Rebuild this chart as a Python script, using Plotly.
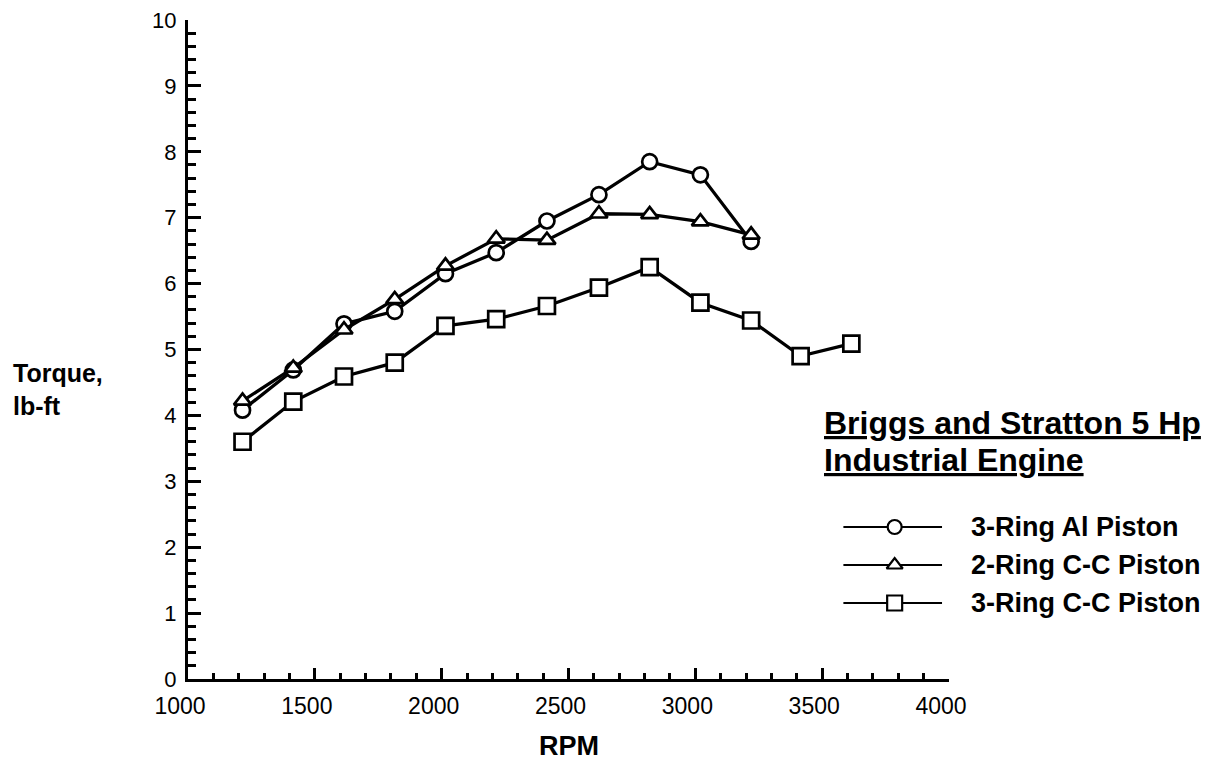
import plotly.graph_objects as go

# ---- data ----
rpm_11 = [1215, 1415, 1615, 1815, 2015, 2215, 2415, 2620, 2820, 3020, 3220]
rpm_13 = [1215, 1415, 1615, 1815, 2015, 2215, 2415, 2620, 2820, 3020, 3220, 3415, 3615]
al_3ring = [4.08, 4.69, 5.39, 5.58, 6.15, 6.47, 6.95, 7.35, 7.85, 7.65, 6.64]
cc_2ring = [4.22, 4.72, 5.30, 5.76, 6.27, 6.68, 6.66, 7.06, 7.05, 6.94, 6.74]
cc_3ring = [3.60, 4.21, 4.59, 4.80, 5.36, 5.46, 5.66, 5.94, 6.25, 5.71, 5.44, 4.90, 5.09]

series_names = ["3-Ring Al Piston", "2-Ring C-C Piston", "3-Ring C-C Piston"]
series_symbols = ["circle", "triangle-up", "square"]
x_ticks = [1000, 1500, 2000, 2500, 3000, 3500, 4000]
y_ticks = list(range(0, 11))
legend_title_lines = ["Briggs and Stratton 5 Hp", "Industrial Engine"]

FONT = "Liberation Sans, Arial, Helvetica, sans-serif"

fig = go.Figure()

series_x = [rpm_11, rpm_11, rpm_13]
series_y = [al_3ring, cc_2ring, cc_3ring]
sizes = [15, 15, 16]
for name, sym, xs, ys, sz in zip(series_names, series_symbols, series_x, series_y, sizes):
    fig.add_trace(go.Scatter(
        x=xs, y=ys, mode="lines+markers", name=name,
        line=dict(color="black", width=3.3),
        marker=dict(symbol=sym, size=sz, color="white",
                    line=dict(color="black", width=2.7)),
        showlegend=False, cliponaxis=False,
    ))

# ---- custom legend samples on a hidden helper axis ----
rows = [3, 2, 1]
for name, sym, row, sz in zip(series_names, series_symbols, rows, sizes):
    fig.add_trace(go.Scatter(
        x=[0, 1], y=[row, row], mode="lines", xaxis="x2", yaxis="y2",
        line=dict(color="black", width=2), showlegend=False, hoverinfo="skip"))
    fig.add_trace(go.Scatter(
        x=[0.52], y=[row], mode="markers", xaxis="x2", yaxis="y2",
        marker=dict(symbol=sym, size=sz - 1, color="white",
                    line=dict(color="black", width=2.2)),
        showlegend=False, hoverinfo="skip"))

fig.update_layout(
    width=1199, height=752,
    margin=dict(l=180, r=258, t=12, b=81, autoexpand=False),
    paper_bgcolor="white", plot_bgcolor="white",
    font=dict(family=FONT, color="black"),
    xaxis=dict(
        range=[1000, 4000], tickvals=x_ticks, ticktext=[str(v) for v in x_ticks],
        showgrid=False, zeroline=False, showline=True, linecolor="black", linewidth=3,
        ticks="inside", ticklen=11, tickwidth=3, tickcolor="black",
        tickfont=dict(size=23, family=FONT, color="black"),
        minor=dict(dtick=100, ticks="inside", ticklen=6, tickwidth=2.5, tickcolor="black", showgrid=False),
        ticklabelstandoff=4, ticklabelshift=-8, ticklabeloverflow="allow", automargin=False,
    ),
    yaxis=dict(
        range=[0, 10], tickvals=y_ticks, ticktext=[str(v) for v in y_ticks],
        showgrid=False, zeroline=False, showline=True, linecolor="black", linewidth=3,
        ticks="inside", ticklen=13, tickwidth=3, tickcolor="black",
        tickfont=dict(size=22, family=FONT, color="black"),
        minor=dict(dtick=0.2, ticks="inside", ticklen=8, tickwidth=2.5, tickcolor="black", showgrid=False),
        ticklabelstandoff=4, ticklabeloverflow="allow", automargin=False,
    ),
    xaxis2=dict(domain=[0.861, 0.991], range=[0, 1], visible=False, anchor="y2", fixedrange=True),
    yaxis2=dict(domain=[0.0865, 0.2595], range=[0.5, 3.5], visible=False, anchor="x2", fixedrange=True),
    showlegend=False,
)

# axis titles as annotations
fig.add_annotation(text="<b>Torque,<br>lb-ft</b>", xref="paper", yref="paper",
                   x=-0.232, y=0.44, xanchor="left", yanchor="middle", align="left",
                   showarrow=False, font=dict(size=25, family=FONT, color="black"))
fig.add_annotation(text="<b>RPM</b>", xref="paper", yref="paper",
                   x=0.5, y=-0.101, xanchor="center", yanchor="middle",
                   showarrow=False, font=dict(size=27, family=FONT, color="black"))

# legend title (two underlined lines)
for line_text, ypos in zip(legend_title_lines, [0.3885, 0.3323]):
    fig.add_annotation(text="<b><u>" + line_text + "</u></b>",
                       xref="paper", yref="paper", x=0.833, y=ypos,
                       xanchor="left", yanchor="middle", align="left", showarrow=False,
                       font=dict(size=32, family=FONT, color="black"))

# legend labels
for name, row in zip(series_names, rows):
    fig.add_annotation(text="<b>" + name + "</b>", xref="x2 domain", yref="y2",
                       x=1.27, y=row, xanchor="left", yanchor="middle", showarrow=False,
                       font=dict(size=27, family=FONT, color="black"))

fig.write_html("out.html")
